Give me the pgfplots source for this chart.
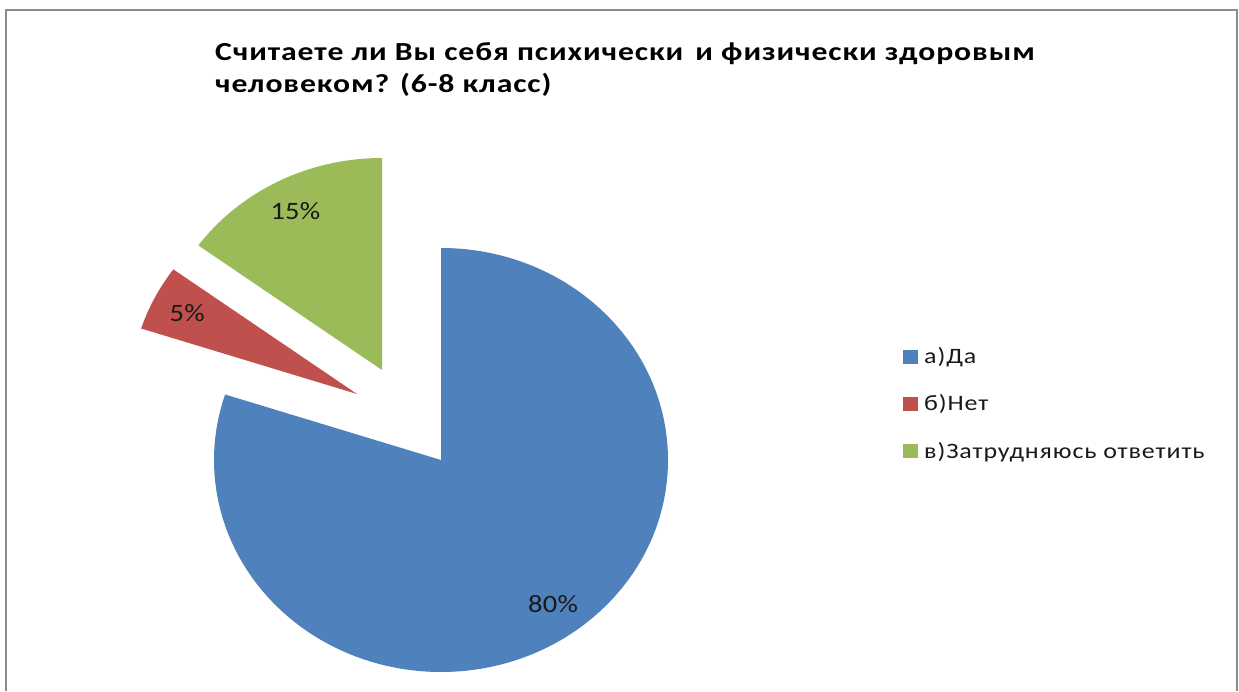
\documentclass[border=0pt]{standalone}
\usepackage{pgfplots}
\pgfplotsset{compat=1.18}
\usepackage{pgfplotstable}
\usepackage{fontspec}
\setmainfont{Carlito}
\newfontfamily\titlefont[FakeStretch=1.22, LetterSpace=3.5]{Carlito}
\newfontfamily\labfont[FakeStretch=1.14, LetterSpace=1]{Carlito}
\newfontfamily\legfont[FakeStretch=1.18, LetterSpace=4]{Carlito}
\definecolor{cA}{HTML}{4F81BD}
\definecolor{cB}{HTML}{C0504D}
\definecolor{cC}{HTML}{9BBB59}
\definecolor{frame}{HTML}{8C8C8C}
% value = percent; dx, dy = explosion offset of the slice (px)
\pgfplotstableread{
name value dx dy col
a 80 0 0 cA
b 5 -84 66 cB
c 15 -59 90 cC
}\piedata
\begin{document}
\begin{tikzpicture}
\begin{axis}[
  width=1239pt, height=691pt, scale only axis,
  xmin=0, xmax=1239, ymin=0, ymax=691,
  enlargelimits=false, hide axis, clip=false,
]
\coordinate (BL) at (axis cs:0,0);
\coordinate (TR) at (axis cs:1239,691);
\def\cum{0}
\pgfplotsforeachungrouped \i in {0,1,2}{%
  \pgfplotstablegetelem{\i}{value}\of\piedata \let\v\pgfplotsretval
  \pgfplotstablegetelem{\i}{dx}\of\piedata \let\ddx\pgfplotsretval
  \pgfplotstablegetelem{\i}{dy}\of\piedata \let\ddy\pgfplotsretval
  \pgfplotstablegetelem{\i}{col}\of\piedata \let\cc\pgfplotsretval
  \pgfmathsetmacro\sa{90-3.6*\cum}%
  \pgfmathsetmacro\ea{90-3.6*(\cum+\v)}%
  \pgfmathsetmacro\ma{(\sa+\ea)/2}%
  \pgfmathsetmacro\cx{441+\ddx}%
  \pgfmathsetmacro\cy{231+\ddy}%
  \pgfmathsetmacro\lx{\cx+0.84*227*cos(\ma)}%
  \pgfmathsetmacro\ly{\cy+0.84*212*sin(\ma)}%
  \pgfmathtruncatemacro\vv{\v}%
  \edef\temp{\noexpand\fill[\cc] (axis cs:\cx,\cy) -- ++(\sa:227pt and 212pt)
     arc[start angle=\sa, end angle=\ea, x radius=227pt, y radius=212pt] -- cycle;
     \noexpand\node[font=\noexpand\labfont\noexpand\fontsize{25}{28}\noexpand\selectfont, text=black!90] at (axis cs:\lx,\ly) {\vv\noexpand\%};}%
  \temp
  \pgfmathsetmacro\cum{\cum+\v}%
}
% frame
\draw[frame, line width=2pt] (axis cs:6,0) -- (axis cs:6,681) -- (axis cs:1237,681) -- (axis cs:1237,0);
% title
\node[anchor=base west, inner sep=0pt, font=\titlefont\bfseries\fontsize{26}{30}\selectfont] at (axis cs:215,630) {Считаете ли Вы себя психически\kern4pt\ и физически здоровым};
\node[anchor=base west, inner sep=0pt, font=\titlefont\bfseries\fontsize{26}{30}\selectfont] at (axis cs:215,598) {человеком? (6-8 класс)};
% legend
\fill[cA] (axis cs:903,327) rectangle (axis cs:918,341);
\fill[cB] (axis cs:903,280) rectangle (axis cs:918,294);
\fill[cC] (axis cs:903,233) rectangle (axis cs:918,247);
\node[anchor=base west, inner sep=0pt, font=\legfont\fontsize{22}{24}\selectfont, text=black!90] at (axis cs:924,327) {а)Да};
\node[anchor=base west, inner sep=0pt, font=\legfont\fontsize{22}{24}\selectfont, text=black!90] at (axis cs:924,280) {б)Нет};
\node[anchor=base west, inner sep=0pt, font=\legfont\fontsize{22}{24}\selectfont, text=black!90] at (axis cs:924,232) {в)Затрудняюсь ответить};
\end{axis}
\pgfresetboundingbox
\path[use as bounding box] (BL) rectangle (TR);
\end{tikzpicture}
\end{document}
